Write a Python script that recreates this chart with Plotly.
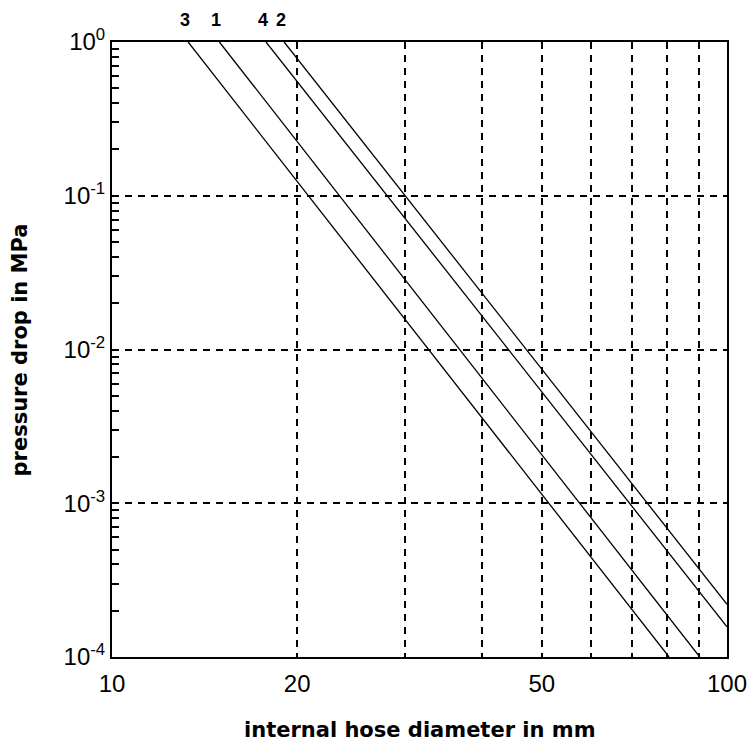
import numpy as np
import plotly.graph_objects as go

# Data (each line is straight on log-log axes)
line1_d = [14.95, 90.3]
line1_p = [1.0, 1.0e-4]
line2_d = [19.05, 100.0]
line2_p = [1.0, 2.2e-4]
line3_d = [13.3, 80.5]
line3_p = [1.0, 1.0e-4]
line4_d = [17.8, 100.0]
line4_p = [1.0, 1.57e-4]

x_tickvals = [10, 20, 50, 100]
x_ticktext = ["10", "20", "50", "100"]
x_minor_grid = [30, 40, 60, 70, 80, 90]
y_tickvals = [1e-4, 1e-3, 1e-2, 1e-1, 1]
y_ticktext = ["10<sup>-4</sup>", "10<sup>-3</sup>", "10<sup>-2</sup>", "10<sup>-1</sup>", "10<sup>0</sup>"]
y_minor = [m * 10.0 ** e for e in range(-4, 0) for m in range(2, 10)]

series = [
    ("1", line1_d, line1_p),
    ("2", line2_d, line2_p),
    ("3", line3_d, line3_p),
    ("4", line4_d, line4_p),
]

fig = go.Figure()
for name, d, p in series:
    fig.add_trace(go.Scatter(x=d, y=p, mode="lines", name=name,
                             line=dict(color="black", width=1.3),
                             showlegend=False, hoverinfo="x+y+name"))

for name, d, p in series:
    fig.add_annotation(x=np.log10(d[0]), y=1, xref="x", yref="paper",
                       text="<b>" + name + "</b>", showarrow=False,
                       yanchor="bottom", yshift=10, xshift=-3,
                       font=dict(family="Liberation Sans, Arial, sans-serif", size=18, color="black"))

tick_font = dict(family="Liberation Sans Narrow, Arial Narrow, sans-serif", size=24, color="black")
title_font = dict(family="DejaVu Sans, sans-serif", size=21, color="black")

fig.add_annotation(x=0.5, y=-0.118, xref="paper", yref="paper",
                   text="<b>internal hose diameter in mm</b>", showarrow=False,
                   xanchor="center", yanchor="middle", font=title_font)
fig.add_annotation(x=-0.1496, y=0.5, xref="paper", yref="paper",
                   text="<b>pressure drop in MPa</b>", showarrow=False, textangle=-90,
                   xanchor="center", yanchor="middle", font=title_font)

fig.update_xaxes(type="log", range=[1, 2], automargin=False,
                 tickvals=x_tickvals, ticktext=x_ticktext, ticks="",
                 ticklabelstandoff=4, ticklabeloverflow="allow",
                 showgrid=True, gridcolor="black", gridwidth=1.5, griddash="7px,6px",
                 showline=True, linecolor="black", linewidth=2, mirror=True,
                 zeroline=False, tickfont=tick_font,
                 minor=dict(tickvals=x_minor_grid, ticks="", showgrid=True,
                            gridcolor="black", gridwidth=1.5, griddash="7px,6px"))
fig.update_yaxes(type="log", range=[-4, 0], automargin=False,
                 tickvals=y_tickvals, ticktext=y_ticktext, ticks="",
                 ticklabeloverflow="allow",
                 showgrid=True, gridcolor="black", gridwidth=1.5, griddash="7px,6px",
                 showline=True, linecolor="black", linewidth=2, mirror=True,
                 zeroline=False, tickfont=tick_font,
                 minor=dict(tickvals=y_minor, ticks="inside", ticklen=7, tickwidth=1.5,
                            tickcolor="black", showgrid=False))

fig.update_layout(width=747, height=742,
                  margin=dict(l=112, r=20, t=42, b=85),
                  paper_bgcolor="white", plot_bgcolor="white")

fig.write_html("out.html")
